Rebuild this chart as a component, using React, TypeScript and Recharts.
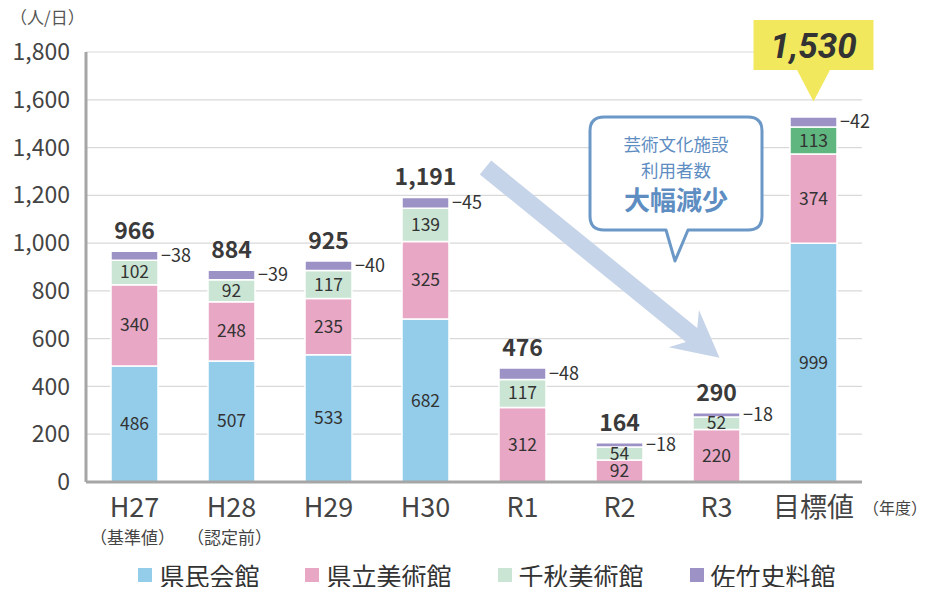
import React from 'react';
import { BarChart, Bar, XAxis, YAxis, CartesianGrid, LabelList, Legend, Cell } from 'recharts';

const categories = ['H27', 'H28', 'H29', 'H30', 'R1', 'R2', 'R3', '目標値'];
const subLabels = ['（基準値）', '（認定前）', '', '', '', '', '', ''];
const kenminKaikan = [486, 507, 533, 682, 0, 0, 0, 999];
const kenritsuBijutsukan = [340, 248, 235, 325, 312, 92, 220, 374];
const senshuBijutsukan = [102, 92, 117, 139, 117, 54, 52, 113];
const satakeShiryokan = [38, 39, 40, 45, 48, 18, 18, 42];
const totals = [966, 884, 925, 1191, 476, 164, 290, 1530];
const yTicks = [0, 200, 400, 600, 800, 1000, 1200, 1400, 1600, 1800];

const FONT = '"Noto Sans CJK JP", "Noto Sans", sans-serif';
const W = 929;
const H = 595;
const M = { top: 52, right: 67, left: 0, bottom: 0 };
const Y_AXIS_W = 86;
const X_AXIS_H = 73;
const LEGEND_H = 40;
const Y_MAX = 1800;

const plotLeft = M.left + Y_AXIS_W;
const plotRight = W - M.right;
const plotTop = M.top;
const plotBottom = H - M.bottom - X_AXIS_H - LEGEND_H;
const band = (plotRight - plotLeft) / categories.length;
const xAt = (i: number) => plotLeft + band * (i + 0.5);
const yAt = (v: number) => plotBottom - (v / Y_MAX) * (plotBottom - plotTop);

const series = [
  { key: '県民会館', color: '#93CDEA' },
  { key: '県立美術館', color: '#E8A8C5' },
  { key: '千秋美術館', color: '#CBE5D5' },
  { key: '佐竹史料館', color: '#9C92C6' },
];

const last = categories.length - 1;
const data = categories.map((c, i) => ({
  name: c,
  sub: subLabels[i],
  県民会館: kenminKaikan[i],
  県立美術館: kenritsuBijutsukan[i],
  千秋美術館: senshuBijutsukan[i],
  佐竹史料館: satakeShiryokan[i],
  total: i === last ? null : totals[i],
}));

const CenterLabel = (props: any) => {
  const { x, y, width, height, value } = props;
  if (!value) return null;
  return (
    <text x={x + width / 2} y={y + height / 2} dy={6} textAnchor="middle" fontSize={17.5} fill="#333" fontFamily={FONT}>
      {value}
    </text>
  );
};

const SideLabel = (props: any) => {
  const { x, y, width, height, value } = props;
  return (
    <text x={x + width + 3} y={y + height / 2} dy={6} textAnchor="start" fontSize={18} fill="#333" fontFamily={FONT}>
      {'−' + value}
    </text>
  );
};

const TotalLabel = (props: any) => {
  const { x, y, width, value } = props;
  if (value == null) return null;
  return (
    <text x={x + width / 2} y={y - 12} textAnchor="middle" fontSize={23} fontWeight="bold" fill="#3a3a3a" fontFamily={FONT}>
      {value.toLocaleString('en-US')}
    </text>
  );
};

const XTick = (props: any) => {
  const { x, y, index } = props;
  const sub = subLabels[index];
  return (
    <g>
      <text x={x} y={y + 27} textAnchor="middle" fontSize={27} fill="#444" fontFamily={FONT}>
        {categories[index]}
      </text>
      {sub && (
        <text x={x - 2} y={y + 54} textAnchor="middle" fontSize={17} fill="#444" fontFamily={FONT}>
          {sub}
        </text>
      )}
    </g>
  );
};

const LegendContent = () => (
  <div style={{ height: LEGEND_H, display: 'flex', justifyContent: 'center', alignItems: 'center', gap: 46, fontFamily: FONT, fontSize: 25, color: '#333', paddingLeft: 112 }}>
    {series.map((s) => (
      <div key={s.key} style={{ display: 'flex', alignItems: 'center' }}>
        <span style={{ display: 'inline-block', width: 14, height: 14, background: s.color, marginRight: 7 }} />
        <span>{s.key}</span>
      </div>
    ))}
  </div>
);

const Overlay = () => {
  // arrow from H30 total towards R3 total
  const ax0 = xAt(3) + 60;
  const ay0 = yAt(totals[3]) - 30;
  const ax1 = xAt(6) + 3;
  const ay1 = yAt(totals[6]) - 55;
  const ang = Math.atan2(ay1 - ay0, ax1 - ax0);
  const len = Math.hypot(ax1 - ax0, ay1 - ay0);
  // bubble
  const bx = 590, by = 117, bw = 172, bh = 113;
  const bcx = bx + bw / 2;
  // yellow callout over target bar
  const tx = xAt(last);
  const tTop = yAt(totals[last]) - 15;
  return (
    <svg width={W} height={H} style={{ position: 'absolute', left: 0, top: 0, pointerEvents: 'none' }}>
      <g transform={`translate(${ax0},${ay0}) rotate(${(ang * 180) / Math.PI})`} fill="#C6D4E9">
        <path d={`M0,-9 L${len - 36},-9 L${len - 46},-24 L${len},0 L${len - 46},24 L${len - 36},9 L0,9 Z`} />
      </g>
      <path
        d={`M${bx + 14},${by} H${bx + bw - 14} Q${bx + bw},${by} ${bx + bw},${by + 14} V${by + bh - 14} Q${bx + bw},${by + bh} ${bx + bw - 14},${by + bh} H${bcx + 12} L${bcx - 1},${by + bh + 31} L${bcx - 10},${by + bh} H${bx + 14} Q${bx},${by + bh} ${bx},${by + bh - 14} V${by + 14} Q${bx},${by} ${bx + 14},${by} Z`}
        fill="#fff"
        stroke="#6C98C7"
        strokeWidth={3}
        strokeLinejoin="round"
      />
      <text x={bcx} y={by + 34} textAnchor="middle" fontSize={17.5} fill="#5E8DC2" fontFamily={FONT}>芸術文化施設</text>
      <text x={bcx} y={by + 60} textAnchor="middle" fontSize={17.5} fill="#5E8DC2" fontFamily={FONT}>利用者数</text>
      <text x={bcx} y={by + 93} textAnchor="middle" fontSize={26} fontWeight="bold" fill="#5E8DC2" fontFamily={FONT}>大幅減少</text>
      <rect x={tx - 60} y={20} width={120} height={50} fill="#F2E85E" />
      <path d={`M${tx - 17},69 L${tx + 17},69 L${tx},${tTop} Z`} fill="#F2E85E" />
      <text x={tx} y={58} textAnchor="middle" fontSize={35} fontWeight="bold" fontStyle="italic" fill="#333" fontFamily='"Roboto", sans-serif'>
        {totals[last].toLocaleString('en-US')}
      </text>
      <text x={10} y={24} fontSize={17} fill="#555" fontFamily={FONT}>（人/日）</text>
      <text x={W - 2} y={plotBottom + 32} textAnchor="end" fontSize={16} fill="#444" fontFamily={FONT}>（年度）</text>
    </svg>
  );
};

export default function App() {
  return (
    <div style={{ position: 'relative', width: W, height: H, margin: -8, background: '#fff' }}>
      <BarChart width={W} height={H} data={data} margin={M} barSize={47}>
        <CartesianGrid vertical={false} stroke="#d9d9d9" strokeWidth={1.2} />
        <XAxis
          dataKey="name"
          height={X_AXIS_H}
          tick={<XTick />}
          tickLine={false}
          axisLine={{ stroke: '#a6a6a6', strokeWidth: 3 }}
          interval={0}
        />
        <YAxis
          width={Y_AXIS_W}
          domain={[0, Y_MAX]}
          ticks={yTicks}
          tickFormatter={(v: number) => v.toLocaleString('en-US')}
          tick={{ fill: '#444', fontSize: 23, fontFamily: FONT }}
          tickLine={false}
          tickSize={0}
          tickMargin={16}
          axisLine={{ stroke: '#a6a6a6', strokeWidth: 3 }}
          interval={0}
        />
        <Legend verticalAlign="bottom" height={LEGEND_H} content={<LegendContent />} />
        <Bar dataKey="県民会館" stackId="a" fill={series[0].color} stroke="#fff" strokeWidth={1.5} isAnimationActive={false}>
          <LabelList dataKey="県民会館" content={<CenterLabel />} />
        </Bar>
        <Bar dataKey="県立美術館" stackId="a" fill={series[1].color} stroke="#fff" strokeWidth={1.5} isAnimationActive={false}>
          <LabelList dataKey="県立美術館" content={<CenterLabel />} />
        </Bar>
        <Bar dataKey="千秋美術館" stackId="a" fill={series[2].color} stroke="#fff" strokeWidth={1.5} isAnimationActive={false}>
          {data.map((d, i) => (
            <Cell key={d.name} fill={i === last ? '#5FB67F' : series[2].color} />
          ))}
          <LabelList dataKey="千秋美術館" content={<CenterLabel />} />
        </Bar>
        <Bar dataKey="佐竹史料館" stackId="a" fill={series[3].color} stroke="#fff" strokeWidth={1.5} isAnimationActive={false}>
          <LabelList dataKey="佐竹史料館" content={<SideLabel />} />
          <LabelList dataKey="total" content={<TotalLabel />} />
        </Bar>
      </BarChart>
      <Overlay />
    </div>
  );
}
